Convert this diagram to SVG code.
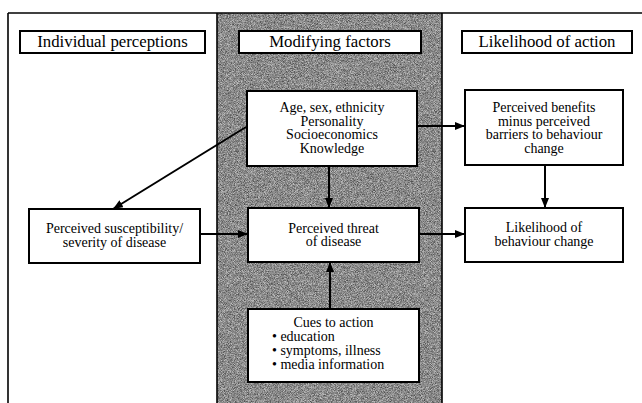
<svg xmlns="http://www.w3.org/2000/svg" width="642" height="403" viewBox="0 0 642 403">
<defs>
<style>
.box{fill:#fff;stroke:#000;stroke-width:2}
.t{font-family:"Liberation Serif","Times New Roman",serif;font-size:14px;fill:#000;text-anchor:middle}
.h{font-family:"Liberation Serif","Times New Roman",serif;font-size:16.8px;fill:#000;text-anchor:middle}
.l{font-family:"Liberation Serif","Times New Roman",serif;font-size:14px;fill:#000}
.c{stroke:#000;stroke-width:2;fill:none}
.frame{stroke:#000;stroke-width:1.6;fill:none}
</style>
<marker id="ah" viewBox="0 0 10 8" refX="10" refY="4" markerWidth="10" markerHeight="8" markerUnits="userSpaceOnUse" orient="auto">
<path d="M0,0 L10,4 L0,8 Z" fill="#000"/>
</marker>
<filter id="grain" x="0" y="0" width="100%" height="100%" color-interpolation-filters="sRGB">
<feTurbulence type="fractalNoise" baseFrequency="1.3" numOctaves="2" seed="7" result="n"/>
<feColorMatrix in="n" type="matrix" values="1 0 0 0 0  1 0 0 0 0  1 0 0 0 0  0 0 0 0 1" result="g"/>
<feComponentTransfer in="g">
<feFuncR type="linear" slope="1.8" intercept="-0.35"/>
<feFuncG type="linear" slope="1.8" intercept="-0.35"/>
<feFuncB type="linear" slope="1.8" intercept="-0.35"/>
</feComponentTransfer>
</filter>
</defs>
<rect width="642" height="403" fill="#fff"/>
<g id="background">
<rect x="217" y="13" width="225" height="390" fill="#8a8a8a"/>
<rect x="217" y="13" width="225" height="390" filter="url(#grain)" opacity="0.45"/>
<line class="frame" x1="217" y1="13" x2="217" y2="403"/>
<line class="frame" x1="442" y1="13" x2="442" y2="403"/>
<line class="frame" x1="8" y1="13" x2="642" y2="13"/>
<line class="frame" x1="8" y1="13" x2="8" y2="403"/>
</g>
<g id="header-individual">
<rect class="box" x="20" y="31" width="185" height="22"/>
<text class="h" x="112.5" y="47">Individual perceptions</text>
</g>
<g id="header-modifying">
<rect class="box" x="239" y="31" width="182" height="22"/>
<text class="h" x="330" y="47">Modifying factors</text>
</g>
<g id="header-likelihood">
<rect class="box" x="462" y="31" width="170" height="22"/>
<text class="h" x="547" y="47">Likelihood of action</text>
</g>
<g id="node-demographics">
<rect class="box" x="247" y="91" width="170" height="75"/>
<text class="t" x="332" y="112">Age, sex, ethnicity</text>
<text class="t" x="332" y="125.7">Personality</text>
<text class="t" x="332" y="139.4">Socioeconomics</text>
<text class="t" x="332" y="153">Knowledge</text>
</g>
<g id="node-benefits">
<rect class="box" x="465" y="90" width="158" height="75"/>
<text class="t" x="544" y="112">Perceived benefits</text>
<text class="t" x="544" y="125.7">minus perceived</text>
<text class="t" x="544" y="139.4">barriers to behaviour</text>
<text class="t" x="544" y="153">change</text>
</g>
<g id="node-susceptibility">
<rect class="box" x="29" y="209" width="171" height="54"/>
<text class="t" x="114.5" y="233">Perceived susceptibility/</text>
<text class="t" x="114.5" y="246.5">severity of disease</text>
</g>
<g id="node-threat">
<rect class="box" x="248" y="208" width="171" height="54"/>
<text class="t" x="333.5" y="232.5">Perceived threat</text>
<text class="t" x="333.5" y="246">of disease</text>
</g>
<g id="node-behaviour">
<rect class="box" x="465" y="208" width="158" height="54"/>
<text class="t" x="544" y="232">Likelihood of</text>
<text class="t" x="544" y="245.5">behaviour change</text>
</g>
<g id="node-cues">
<rect class="box" x="248" y="309" width="171" height="73"/>
<text class="t" x="333.5" y="327">Cues to action</text>
<text class="l" x="272" y="341">• education</text>
<text class="l" x="272" y="355">• symptoms, illness</text>
<text class="l" x="272" y="369">• media information</text>
</g>
<g id="connectors">
<line class="c" x1="417" y1="126" x2="465" y2="126" marker-end="url(#ah)"/>
<line class="c" x1="545" y1="165" x2="545" y2="208" marker-end="url(#ah)"/>
<line class="c" x1="246" y1="127" x2="113" y2="209" marker-end="url(#ah)"/>
<line class="c" x1="329" y1="166" x2="329" y2="208" marker-end="url(#ah)"/>
<line class="c" x1="200" y1="234" x2="248" y2="234" marker-end="url(#ah)"/>
<line class="c" x1="419" y1="234" x2="465" y2="234" marker-end="url(#ah)"/>
<line class="c" x1="330" y1="309" x2="330" y2="262" marker-end="url(#ah)"/>
</g>
</svg>
